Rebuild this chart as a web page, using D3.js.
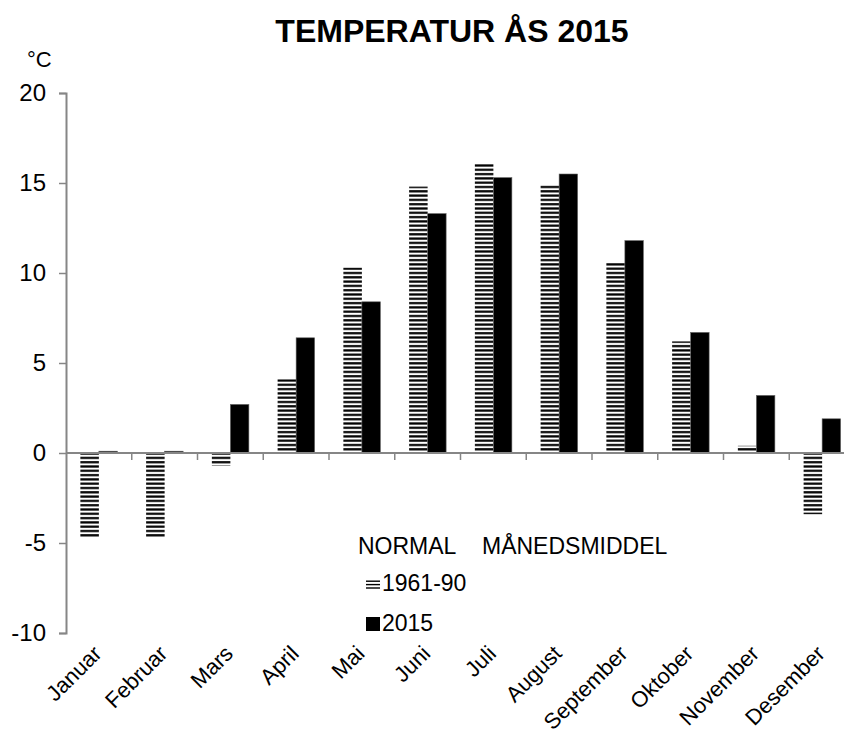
<!DOCTYPE html>
<html>
<head>
<meta charset="utf-8">
<script src="https://cdn.jsdelivr.net/npm/d3@7"></script>
<style>
  body { margin: 0; background: #fff; }
  text { font-family: "Liberation Sans", Arial, sans-serif; fill: #000; }
</style>
</head>
<body>
<svg id="chart" width="844" height="744"></svg>
<script>
// data
var months = ["Januar", "Februar", "Mars", "April", "Mai", "Juni", "Juli", "August", "September", "Oktober", "November", "Desember"]
var normal = [-4.7, -4.7, -0.7, 4.1, 10.3, 14.8, 16.1, 14.9, 10.6, 6.2, 0.4, -3.4]
var year2015 = [0.1, 0.1, 2.7, 6.4, 8.4, 13.3, 15.3, 15.5, 11.8, 6.7, 3.2, 1.9]
var yTicks = [-10, -5, 0, 5, 10, 15, 20]
var seriesNames = ["1961-90", "2015"]

var svg = d3.select("#chart")
var axisGrey = "#868686"

var x = d3.scaleBand().domain(months).range([66, 855]).padding(0)
var groupW = x.bandwidth() * 0.563
var xs = d3.scaleBand().domain(seriesNames).range([0, groupW])
var y = d3.scaleLinear().domain([-10, 20]).range([633, 93])

// hatch for the normal series
var defs = svg.append("defs")
var pat = defs.append("pattern")
  .attr("id", "hatch")
  .attr("patternUnits", "userSpaceOnUse")
  .attr("width", 8)
  .attr("height", 4.3)
pat.append("rect").attr("width", 8).attr("height", 4.3).attr("fill", "#fff")
pat.append("rect").attr("y", 1).attr("width", 8).attr("height", 2.2).attr("fill", "#000")

// title
svg.append("text")
  .attr("x", 452).attr("y", 42)
  .attr("text-anchor", "middle")
  .attr("font-size", "32px")
  .attr("font-weight", "bold")
  .text("TEMPERATUR ÅS 2015")

svg.append("text")
  .attr("x", 27).attr("y", 67)
  .attr("font-size", "22px")
  .text("°C")

var offset = function(i) { return x(months[i]) + (x.bandwidth() - groupW) / 2 }

// bars
var barsG = svg.append("g")
barsG.selectAll("rect.normal")
  .data(normal)
  .enter().append("rect")
  .attr("class", "normal")
  .attr("x", (d, i) => offset(i) + xs("1961-90"))
  .attr("width", xs.bandwidth())
  .attr("y", d => y(Math.max(0, d)))
  .attr("height", d => Math.abs(y(d) - y(0)))
  .attr("fill", "url(#hatch)")

barsG.selectAll("rect.y2015")
  .data(year2015)
  .enter().append("rect")
  .attr("class", "y2015")
  .attr("x", (d, i) => offset(i) + xs("2015"))
  .attr("width", xs.bandwidth())
  .attr("y", d => y(Math.max(0, d)))
  .attr("height", d => Math.abs(y(d) - y(0)))
  .attr("fill", "#000")
  .attr("stroke", "#666")
  .attr("stroke-width", 0.6)

// y axis
var yAxis = svg.append("g")
  .attr("transform", "translate(66,0)")
  .call(d3.axisLeft(y).tickValues(yTicks).tickSize(7).tickPadding(13).tickFormat(d3.format("d")))
yAxis.select(".domain").attr("stroke", axisGrey).attr("stroke-width", 2)
yAxis.selectAll(".tick line").attr("stroke", axisGrey).attr("stroke-width", 1.5)
yAxis.selectAll(".tick text")
  .attr("font-family", "Liberation Sans, Arial, sans-serif")
  .attr("font-size", "24px")
  .attr("fill", "#000")
  .text(d => d < 0 ? "-" + Math.abs(d) : d)

// x axis at zero, ticks between categories
var xAxisG = svg.append("g")
xAxisG.append("line")
  .attr("x1", 66).attr("x2", 855)
  .attr("y1", y(0)).attr("y2", y(0))
  .attr("stroke", axisGrey).attr("stroke-width", 2)
xAxisG.selectAll("line.tk")
  .data(months.slice(1))
  .enter().append("line")
  .attr("class", "tk")
  .attr("x1", d => x(d)).attr("x2", d => x(d))
  .attr("y1", y(0)).attr("y2", y(0) + 7)
  .attr("stroke", axisGrey).attr("stroke-width", 1.5)

// month labels
svg.append("g").selectAll("text")
  .data(months)
  .enter().append("text")
  .attr("transform", d => "translate(" + (x(d) + x.bandwidth() / 2 + 4) + ",655) rotate(-45)")
  .attr("text-anchor", "end")
  .attr("font-size", "22px")
  .text(d => d)

// legend
var lg = svg.append("g")
lg.append("text")
  .attr("x", 358).attr("y", 554)
  .attr("font-size", "23px")
  .text("NORMAL")
lg.append("text")
  .attr("x", 482).attr("y", 554)
  .attr("font-size", "23px")
  .text("MÅNEDSMIDDEL")
lg.selectAll("rect.hl")
  .data([0, 1, 2])
  .enter().append("rect")
  .attr("class", "hl")
  .attr("x", 366).attr("y", d => 580.5 + d * 3.4)
  .attr("width", 14).attr("height", 1.4)
  .attr("fill", "#000")
lg.append("text")
  .attr("x", 382).attr("y", 591)
  .attr("font-size", "23px")
  .text(seriesNames[0])
lg.append("rect")
  .attr("x", 366).attr("y", 617).attr("width", 14).attr("height", 14)
  .attr("fill", "#000")
lg.append("text")
  .attr("x", 382).attr("y", 631)
  .attr("font-size", "23px")
  .text(seriesNames[1])
</script>
</body>
</html>
